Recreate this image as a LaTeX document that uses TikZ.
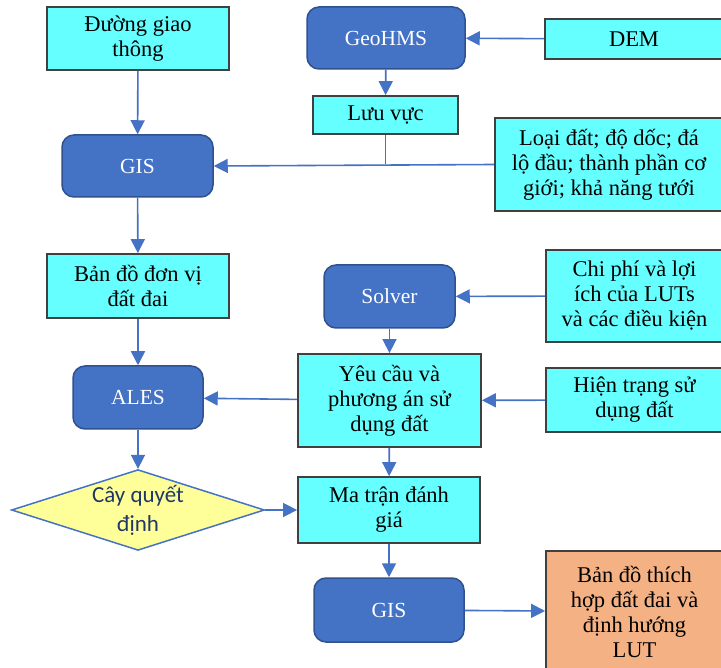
\documentclass[tikz,border=0pt]{standalone}
\usepackage{fontspec}
\setmainfont{Liberation Serif}
\newfontfamily\calibri{Carlito}
\usepackage{tikz}
\usetikzlibrary{arrows.meta,positioning,shapes.geometric}
\definecolor{boxcyan}{HTML}{66FFFF}
\definecolor{toolblue}{HTML}{4472C4}
\definecolor{toolline}{HTML}{2F528F}
\definecolor{boxline}{HTML}{404040}
\definecolor{outorange}{HTML}{F4B183}
\definecolor{treeyellow}{HTML}{FFFF99}
\definecolor{treetext}{HTML}{203864}
\tikzset{
  data/.style={draw=boxline,line width=1.8pt,fill=boxcyan,align=center,inner sep=0pt,
    font=\fontsize{22.5}{25}\selectfont},
  tool/.style={draw=toolline,line width=1.5pt,fill=toolblue,rounded corners=12pt,
    text=white,inner sep=0pt,font=\fontsize{21.5}{24}\selectfont},
  result/.style={data,fill=outorange},
  decision/.style={diamond,aspect=3,draw=toolblue,line width=1.5pt,fill=treeyellow,
    inner sep=0pt,align=center,text=treetext,font=\calibri\fontsize{23}{29}\selectfont},
  flow/.style={toolblue,line width=1.6pt}
}

\begin{document}
\begin{tikzpicture}[x=1pt,y=-1pt,>={Triangle[length=14pt,width=14pt]}]
  \useasboundingbox (0,0) rectangle (721,668);
  \node[data,minimum width=182pt,minimum height=63pt] (road) at (138,38.5) {Đường giao\\thông};
  \node[tool,minimum width=158pt,minimum height=62pt] (geohms) at (386,38) {GeoHMS};
  \node[data,minimum width=178pt,minimum height=40pt] (dem) at (634,39) {DEM};
  \node[data,minimum width=145pt,minimum height=38pt] (basin) at (385.5,115) {Lưu vực};
  \node[tool,minimum width=151pt,minimum height=62pt] (gis_in) at (137.5,166) {GIS};
  \node[data,minimum width=228pt,minimum height=93pt] (soil) at (609,164.5) {Loại đất; độ dốc; đá\\lộ đầu; thành phần cơ\\giới; khả năng tưới};
  \node[data,minimum width=182pt,minimum height=64pt] (lmu) at (138,286) {Bản đồ đơn vị\\đất đai};
  \node[tool,minimum width=131pt,minimum height=63pt] (solver) at (389.5,296.5) {Solver};
  \node[data,minimum width=177pt,minimum height=92pt] (cost) at (634.5,296) {Chi phí và lợi\\ích của LUTs\\và các điều kiện};
  \node[tool,minimum width=130pt,minimum height=63pt] (ales) at (138,397.5) {ALES};
  \node[data,minimum width=183pt,minimum height=93pt] (req) at (389.5,400.5) {Yêu cầu và\\phương án sử\\dụng đất};
  \node[data,minimum width=177pt,minimum height=64pt] (landuse) at (634.5,400) {Hiện trạng sử\\dụng đất};
  \node[decision,minimum width=253pt,minimum height=80pt] (tree) at (138,510) {Cây quyết\\định};
  \node[data,minimum width=182pt,minimum height=66pt] (matrix) at (389,510) {Ma trận đánh\\giá};
  \node[tool,minimum width=150pt,minimum height=64pt] (gis_out) at (389,610) {GIS};
  \node[result,minimum width=177pt,minimum height=121pt] (suit) at (634.5,611.5) {Bản đồ thích\\hợp đất đai và\\định hướng\\LUT};
  \coordinate (join) at (basin.south |- soil.west);

  \path[flow,->]
    (road) edge (gis_in)
    (dem) edge (geohms)
    (geohms) edge (basin)
    (soil.west) edge (gis_in.east)
    (gis_in) edge (lmu)
    (lmu) edge (ales)
    (cost) edge (solver)
    (solver) edge (req)
    (landuse) edge (req)
    (req) edge (ales)
    (ales) edge (tree)
    (req) edge (matrix)
    (tree) edge (matrix)
    (matrix) edge (gis_out)
    (gis_out) edge (suit);
  \draw[flow] (basin) -- (join);
\end{tikzpicture}
\end{document}
